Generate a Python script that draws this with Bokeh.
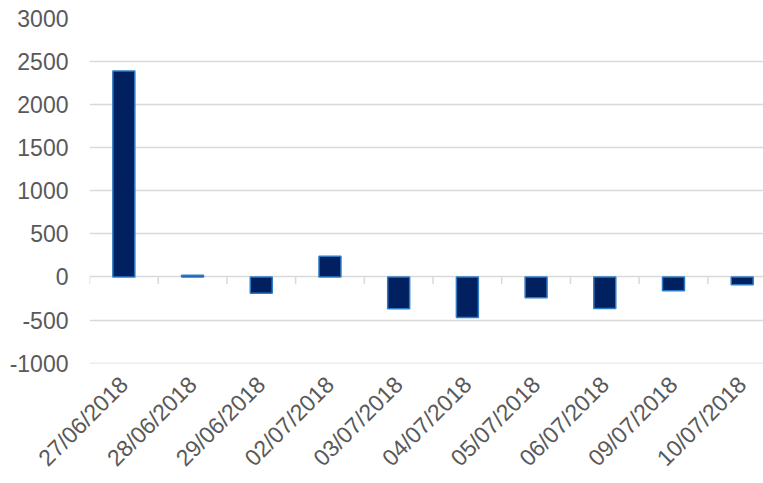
import math
from bokeh.plotting import figure
from bokeh.models import Range1d, FixedTicker, ColumnDataSource, PrintfTickFormatter
from bokeh.embed import file_html
from bokeh.resources import INLINE

categories = ["27/06/2018", "28/06/2018", "29/06/2018", "02/07/2018", "03/07/2018",
              "04/07/2018", "05/07/2018", "06/07/2018", "09/07/2018", "10/07/2018"]
values = [2390, 20, -190, 240, -370, -470, -240, -365, -160, -90]
y_ticks = [-1000, -500, 0, 500, 1000, 1500, 2000, 2500, 3000]

xs = list(range(len(categories)))
src = ColumnDataSource(dict(x=xs, top=values))

p = figure(width=763, height=483, x_range=Range1d(-0.5, 9.31), y_range=Range1d(-1004, 3000),
           output_backend="svg", toolbar_location=None,
           min_border_left=89, min_border_right=0, min_border_top=18, min_border_bottom=120)
p.outline_line_color = None

font = "Liberation Sans"
col = "#595959"

p.vbar(x="x", top="top", bottom=0, width=0.32, source=src,
       fill_color="#002060", line_color="#2E7BC6", line_width=1.5)

# category boundary tick marks at the zero line
bounds = [i - 0.5 for i in range(len(categories) + 1)]
p.segment(x0=bounds, y0=[0] * len(bounds), x1=bounds, y1=[-80] * len(bounds),
          line_color="#D9D9D9", line_width=1.5)

p.yaxis.ticker = FixedTicker(ticks=y_ticks)
p.yaxis.formatter = PrintfTickFormatter(format="%d")
p.ygrid.ticker = FixedTicker(ticks=y_ticks)
p.ygrid.grid_line_color = "#D9D9D9"
p.ygrid.grid_line_width = 1.3
p.xgrid.grid_line_color = None

p.yaxis.axis_line_color = None
p.yaxis.major_tick_line_color = None
p.yaxis.minor_tick_line_color = None
p.yaxis.major_tick_out = 0
p.yaxis.minor_tick_out = 0
p.yaxis.major_label_standoff = 21
p.yaxis.major_label_text_font = font
p.yaxis.major_label_text_font_size = "23px"
p.yaxis.major_label_text_color = col

p.xaxis.ticker = FixedTicker(ticks=xs)
p.xaxis.major_label_overrides = {i: c for i, c in enumerate(categories)}
p.xaxis.axis_line_color = None
p.xaxis.major_tick_line_color = None
p.xaxis.minor_tick_line_color = None
p.xaxis.major_tick_out = 0
p.xaxis.minor_tick_out = 0
p.xaxis.major_label_orientation = math.pi / 4
p.xaxis.major_label_standoff = 17
p.xaxis.major_label_text_font = font
p.xaxis.major_label_text_font_size = "23px"
p.xaxis.major_label_text_color = col

open("out.html", "w").write(file_html(p, INLINE))
